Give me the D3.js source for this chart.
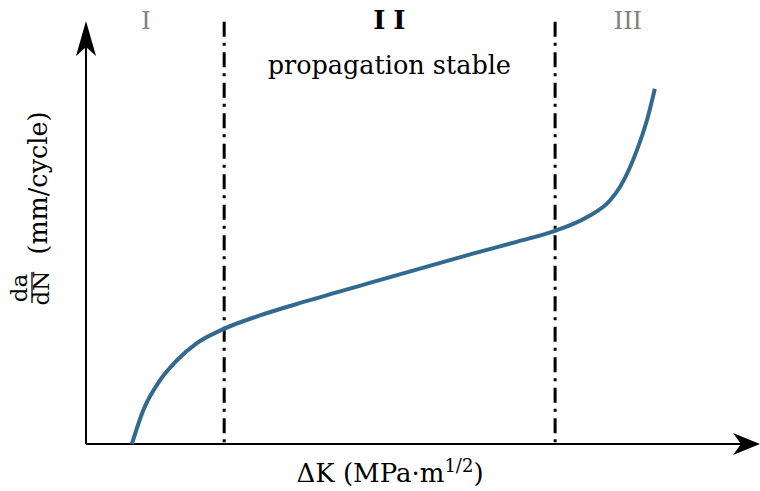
<!DOCTYPE html>
<html>
<head>
<meta charset="utf-8">
<script src="https://cdn.jsdelivr.net/npm/d3@7"></script>
<style>
  body { margin: 0; background: #fff; }
  svg text { font-family: "DejaVu Serif", serif; }
</style>
</head>
<body>
<svg id="chart" width="760" height="491"></svg>
<script>
// schematic crack growth curve (arbitrary units)
var deltaK = [0.68, 0.85, 1.10, 1.35, 1.64, 2.03, 2.58, 3.32, 4.46, 5.74, 6.39, 6.98, 7.43, 7.77, 7.92, 8.17, 8.32, 8.44];
var dadN   = [0.00, 0.80, 1.51, 1.98, 2.38, 2.71, 3.04, 3.40, 3.92, 4.50, 4.78, 5.05, 5.36, 5.75, 6.07, 6.93, 7.64, 8.40];

var boundaries = [2.05, 6.96];
var regionNames = ["I", "II", "III"];
var regionPos = [0.89, 4.5, 8.04];
var subtitle = "propagation stable";

var svg = d3.select("#chart");

var x = d3.scaleLinear().domain([0, 10]).range([86, 760]);
var y = d3.scaleLinear().domain([0, 10]).range([444, 21]);

var lineColor = "#31698f";

// region boundaries
svg.selectAll("line.bound")
  .data(boundaries)
  .enter().append("line")
  .attr("class", "bound")
  .attr("x1", d => x(d)).attr("x2", d => x(d))
  .attr("y1", y(9.98)).attr("y2", y(0))
  .attr("stroke", "#000")
  .attr("stroke-width", 3)
  .attr("stroke-dasharray", "15,6,3,6.5");

// axes
svg.append("line")
  .attr("x1", x(0)).attr("x2", x(0))
  .attr("y1", y(0)).attr("y2", y(10) + 10)
  .attr("stroke", "#000").attr("stroke-width", 2);
svg.append("line")
  .attr("x1", x(0)).attr("x2", x(10) - 10)
  .attr("y1", y(0)).attr("y2", y(0))
  .attr("stroke", "#000").attr("stroke-width", 2);

// arrow heads
var tipY = [x(0), y(10)], tipX = [x(10), y(0)];
svg.append("path")
  .attr("d", "M" + tipY[0] + "," + tipY[1] +
    "L" + (tipY[0] + 10) + "," + (tipY[1] + 35) +
    "L" + tipY[0] + "," + (tipY[1] + 26) +
    "L" + (tipY[0] - 10) + "," + (tipY[1] + 35) + "Z")
  .attr("fill", "#000");
svg.append("path")
  .attr("d", "M" + tipX[0] + "," + tipX[1] +
    "L" + (tipX[0] - 27) + "," + (tipX[1] - 11) +
    "L" + (tipX[0] - 19) + "," + tipX[1] +
    "L" + (tipX[0] - 27) + "," + (tipX[1] + 11) + "Z")
  .attr("fill", "#000");

// curve
var pts = deltaK.map((d, i) => [d, dadN[i]]);
var line = d3.line()
  .x(d => x(d[0]))
  .y(d => y(d[1]))
  .curve(d3.curveMonotoneX);

svg.append("path")
  .datum(pts)
  .attr("d", line)
  .attr("fill", "none")
  .attr("stroke", lineColor)
  .attr("stroke-width", 4);

// region labels
svg.selectAll("text.region")
  .data(regionNames)
  .enter().append("text")
  .attr("class", "region")
  .attr("x", (d, i) => x(regionPos[i]))
  .attr("y", 29)
  .attr("text-anchor", "middle")
  .attr("font-size", (d, i) => i == 1 ? 26 : 24)
  .attr("font-weight", (d, i) => i == 1 ? "bold" : "normal")
  .attr("letter-spacing", (d, i) => i == 1 ? 8 : 0)
  .attr("dx", (d, i) => i == 1 ? 4 : 0)
  .attr("fill", (d, i) => i == 1 ? "#000" : "#808080")
  .text(d => d);

svg.append("text")
  .attr("x", x(4.5))
  .attr("y", 74)
  .attr("text-anchor", "middle")
  .attr("font-size", 25.5)
  .attr("fill", "#000")
  .text(subtitle);

// x label
var xl = svg.append("text")
  .attr("x", 390)
  .attr("y", 482)
  .attr("text-anchor", "middle")
  .attr("font-size", 26)
  .attr("fill", "#000");
xl.append("tspan").text("\u0394K (MPa\u00b7m");
xl.append("tspan").attr("dy", -10).attr("font-size", 18).text("1/2");
xl.append("tspan").attr("dy", 10).text(")");

// y label
var yl = svg.append("g").attr("transform", "rotate(-90)");
yl.append("text")
  .attr("x", -183).attr("y", 47)
  .attr("text-anchor", "middle")
  .attr("font-size", 25.5)
  .text("(mm/cycle)");
yl.append("text")
  .attr("x", -288).attr("y", 27)
  .attr("text-anchor", "middle")
  .attr("font-size", 23)
  .text("da");
yl.append("line")
  .attr("x1", -303).attr("x2", -272)
  .attr("y1", 32).attr("y2", 32)
  .attr("stroke", "#000").attr("stroke-width", 1.3);
yl.append("text")
  .attr("x", -288).attr("y", 49)
  .attr("text-anchor", "middle")
  .attr("font-size", 23)
  .text("dN");
</script>
</body>
</html>
